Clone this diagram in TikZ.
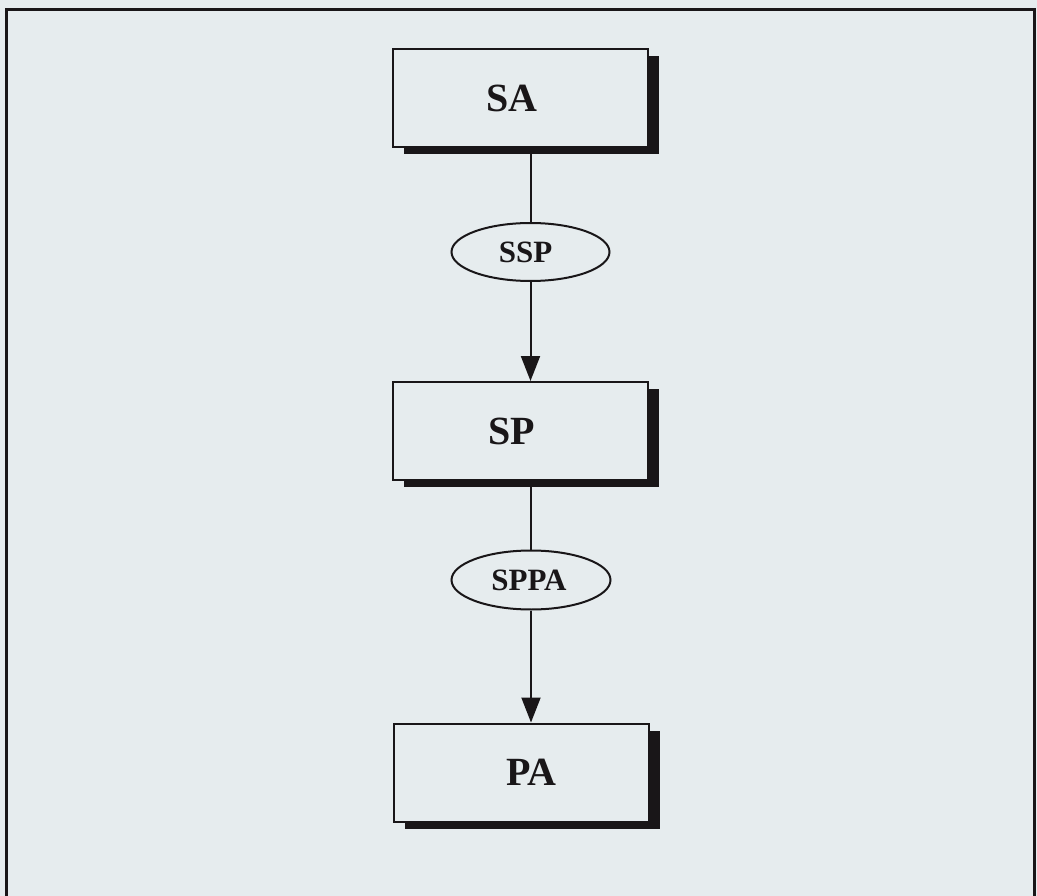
\documentclass[tikz,border=0pt]{standalone}
\usepackage{fontspec}
\setmainfont{Liberation Serif}
\usetikzlibrary{arrows.meta,shapes.geometric,shadows}
\definecolor{bgc}{RGB}{230,236,238}
\definecolor{ink}{RGB}{25,22,24}
\begin{document}
\begin{tikzpicture}[x=1pt,y=-1pt,
  box/.style={draw=ink,line width=2pt,fill=bgc,minimum width=255pt,minimum height=98pt,inner sep=0pt,
    font=\fontsize{40}{44}\selectfont\bfseries,text=ink,
    drop shadow={shadow xshift=11pt,shadow yshift=-7pt,fill=ink,opacity=1}},
  oval/.style={draw=ink,line width=2pt,fill=bgc,ellipse,inner sep=0pt,
    font=\fontsize{31}{34}\selectfont\bfseries,text=ink},
  link/.style={draw=ink,line width=2pt},
  arr/.style={link,-{Triangle[length=25pt,width=19pt]}}]
\useasboundingbox (0,0) rectangle (1037,896);
\fill[bgc] (0,0) rectangle (1037,896);
\draw[ink,line width=3pt] (6,896) -- (6,10) -- (1034,10) -- (1034,896);
\node[box] (SA) at (520.5,98) {SA\hspace*{17pt}};
\node[box] (SP) at (520.5,431) {SP\hspace*{18pt}};
\node[box] (PA) at (521.5,772.5) {\hspace*{20pt}PA};
\node[oval,minimum width=158pt,minimum height=58pt] (SSP) at (530.5,252) {SSP\hspace*{10pt}};
\node[oval,minimum width=159pt,minimum height=59pt] (SPPA) at (531,580) {SPPA\hspace*{4pt}};
\draw[link] (SSP.north |- SA.south) -- (SSP.north);
\draw[arr] (SSP.south) -- (SSP.south |- SP.north);
\draw[link] (SPPA.north |- SP.south) -- (SPPA.north);
\draw[arr] (SPPA.south) -- (SPPA.south |- PA.north);
\end{tikzpicture}
\end{document}
